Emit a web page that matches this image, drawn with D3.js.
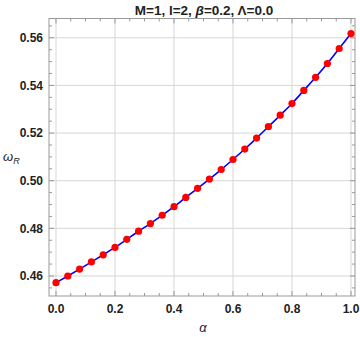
<!DOCTYPE html>
<html>
<head>
<meta charset="utf-8">
<script src="https://cdn.jsdelivr.net/npm/d3@7"></script>
<style>
  body { margin: 0; background: #fff; }
  text { font-family: "Liberation Sans", Arial, sans-serif; }
</style>
</head>
<body>
<div id="chart"></div>
<script>
// data
const alphaVals = [0.00, 0.04, 0.08, 0.12, 0.16, 0.20, 0.24, 0.28, 0.32, 0.36, 0.40, 0.44, 0.48,
  0.52, 0.56, 0.60, 0.64, 0.68, 0.72, 0.76, 0.80, 0.84, 0.88, 0.92, 0.96, 1.00];
const omegaR = [0.4572, 0.4600, 0.4629, 0.4659, 0.4689, 0.4720, 0.4754, 0.4788, 0.4820, 0.4855,
  0.4891, 0.4930, 0.4968, 0.5007, 0.5047, 0.5089, 0.5133, 0.5179, 0.5227, 0.5275, 0.5324,
  0.5379, 0.5434, 0.5492, 0.5555, 0.5618];
const xTicks = [0, 0.2, 0.4, 0.6, 0.8, 1.0];
const yTicks = [0.46, 0.48, 0.50, 0.52, 0.54, 0.56];

const width = 360, height = 337;
const margin = { left: 49, right: 5, top: 18.5, bottom: 41 };
const innerW = width - margin.left - margin.right;
const innerH = height - margin.top - margin.bottom;

const svg = d3.select('#chart').append('svg')
  .attr('width', width).attr('height', height);

const g = svg.append('g')
  .attr('transform', `translate(${margin.left},${margin.top})`);

const x = d3.scaleLinear().domain([-0.0237, 1.0136]).range([0, innerW]);
const y = d3.scaleLinear().domain([0.4516, 0.5681]).range([innerH, 0]);

// grid
g.append('g').selectAll('line').data(xTicks).join('line')
  .attr('x1', d => x(d)).attr('x2', d => x(d))
  .attr('y1', 0).attr('y2', innerH)
  .attr('stroke', '#d6d6d6').attr('stroke-width', 1);
g.append('g').selectAll('line').data(yTicks).join('line')
  .attr('y1', d => y(d)).attr('y2', d => y(d))
  .attr('x1', 0).attr('x2', innerW)
  .attr('stroke', '#d6d6d6').attr('stroke-width', 1);

// ticks on all four sides, pointing inward
const xMinor = d3.range(0, 1.0001, 0.05);
const yMinor = d3.range(0.455, 0.5651, 0.005);
const tickCol = '#999';
const isMajX = v => xTicks.some(t => Math.abs(t - v) < 1e-6);
const isMajY = v => yTicks.some(t => Math.abs(t - v) < 1e-6);

g.append('g').selectAll('line').data(xMinor).join('line')
  .attr('x1', d => x(d)).attr('x2', d => x(d))
  .attr('y1', innerH).attr('y2', d => innerH - (isMajX(d) ? 5 : 3))
  .attr('stroke', tickCol);
g.append('g').selectAll('line').data(xMinor).join('line')
  .attr('x1', d => x(d)).attr('x2', d => x(d))
  .attr('y1', 0).attr('y2', d => (isMajX(d) ? 5 : 3))
  .attr('stroke', tickCol);
g.append('g').selectAll('line').data(yMinor).join('line')
  .attr('y1', d => y(d)).attr('y2', d => y(d))
  .attr('x1', 0).attr('x2', d => (isMajY(d) ? 5 : 3))
  .attr('stroke', tickCol);
g.append('g').selectAll('line').data(yMinor).join('line')
  .attr('y1', d => y(d)).attr('y2', d => y(d))
  .attr('x1', innerW).attr('x2', d => innerW - (isMajY(d) ? 5 : 3))
  .attr('stroke', tickCol);

// frame
g.append('rect')
  .attr('width', innerW).attr('height', innerH)
  .attr('fill', 'none').attr('stroke', '#999').attr('stroke-width', 1);

// tick labels
g.append('g').selectAll('text').data(xTicks).join('text')
  .attr('x', d => x(d)).attr('y', innerH + 17)
  .attr('text-anchor', 'middle')
  .attr('font-size', 12).attr('font-weight', 'bold').attr('fill', '#222')
  .text(d => d3.format('.1f')(d));
g.append('g').selectAll('text').data(yTicks).join('text')
  .attr('x', -6).attr('y', d => y(d)).attr('dy', '0.35em')
  .attr('text-anchor', 'end')
  .attr('font-size', 12).attr('font-weight', 'bold').attr('fill', '#222')
  .text(d => d3.format('.2f')(d));

// series
const pts = alphaVals.map((a, i) => [a, omegaR[i]]);
g.append('path')
  .datum(pts)
  .attr('fill', 'none').attr('stroke', '#0000ff').attr('stroke-width', 1.6)
  .attr('d', d3.line().x(d => x(d[0])).y(d => y(d[1])).curve(d3.curveMonotoneX));
g.append('g').selectAll('circle').data(pts).join('circle')
  .attr('cx', d => x(d[0])).attr('cy', d => y(d[1]))
  .attr('r', 3.6).attr('fill', '#ff0000');

// title
const title = svg.append('text')
  .attr('x', 204).attr('y', 15)
  .attr('text-anchor', 'middle')
  .attr('font-size', 13.5).attr('font-weight', 'bold').attr('fill', '#222');
title.append('tspan').text('M=1, l=2, ');
title.append('tspan').attr('font-style', 'italic').text('β');
title.append('tspan').text('=0.2, Λ=0.0');

// axis labels
const yl = svg.append('text')
  .attr('x', 3).attr('y', 161)
  .attr('font-size', 13).attr('fill', '#222');
yl.append('tspan').attr('font-style', 'italic').text('ω');
yl.append('tspan').attr('font-style', 'italic').attr('font-size', 9).attr('dy', 3).text('R');

svg.append('text')
  .attr('x', 203).attr('y', 332)
  .attr('text-anchor', 'middle')
  .attr('font-size', 13).attr('font-style', 'italic').attr('fill', '#222')
  .text('α');
</script>
</body>
</html>
